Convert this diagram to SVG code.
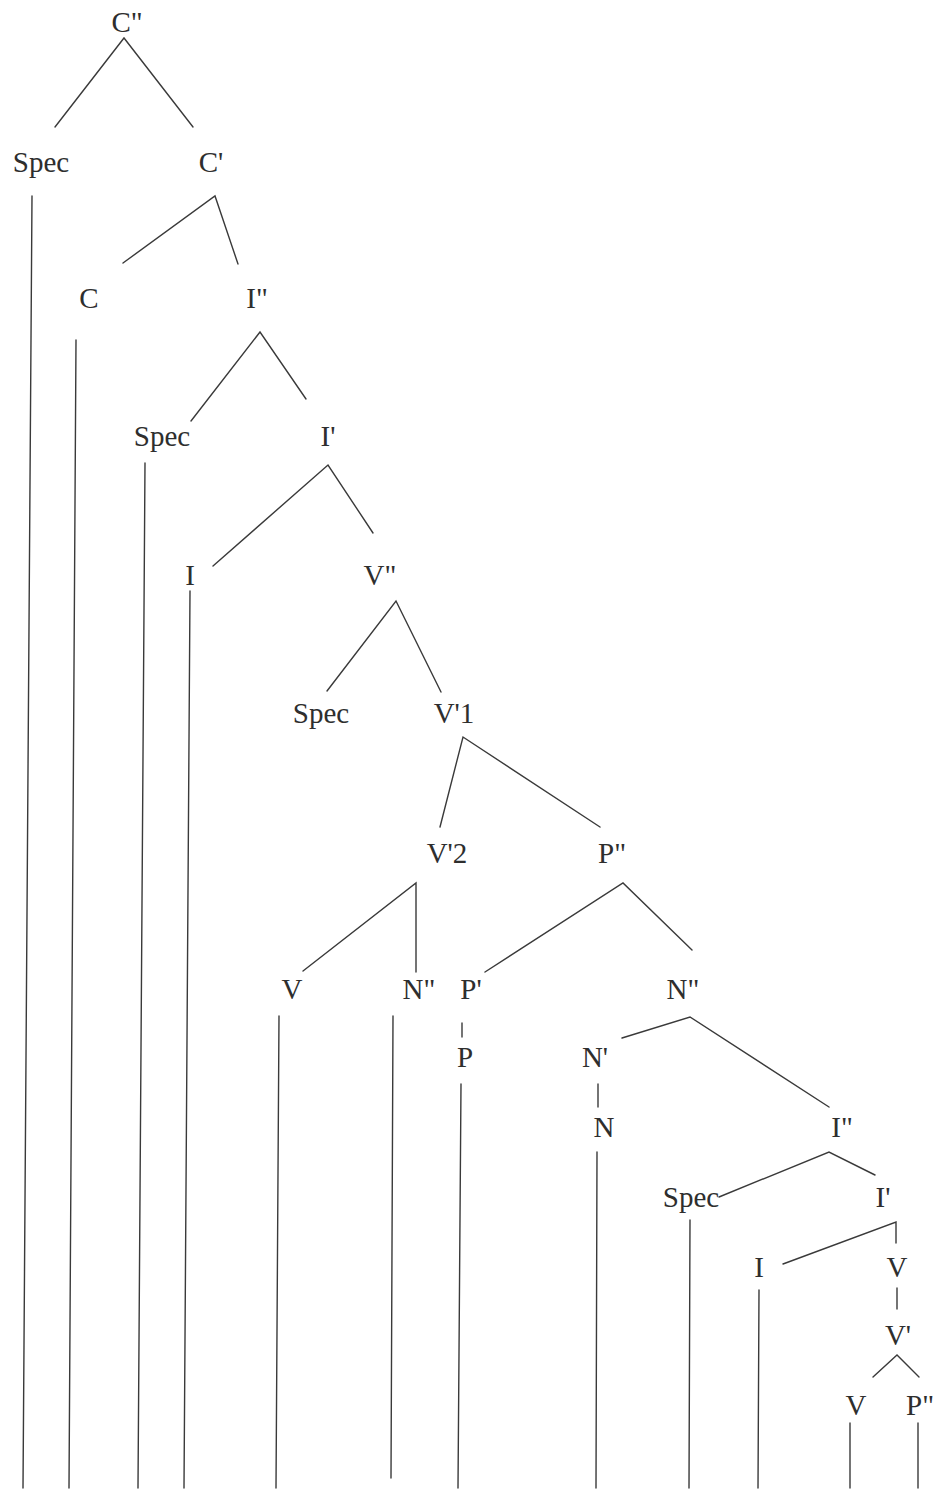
<svg xmlns="http://www.w3.org/2000/svg" width="937" height="1490" viewBox="0 0 937 1490">
  <style>
    .bg { fill: #ffffff; }
    .lbl { font-family: "Liberation Serif", "Times New Roman", serif; font-size: 29px; fill: #2e2e2e; text-anchor: middle; }
    .edge { stroke: #3a3a3a; stroke-width: 1.4; fill: none; stroke-linecap: round; }
  </style>
  <rect class="bg" x="0" y="0" width="937" height="1490"/>

  <!-- branches and projection lines -->
  <g id="connectors">
    <polyline class="edge" points="55,127 124,38 193,127"/>
    <polyline class="edge" points="123,263 215,196 238,264"/>
    <polyline class="edge" points="191,421 260,332 306,399"/>
    <polyline class="edge" points="213,566 328,465 373,533"/>
    <polyline class="edge" points="327,691 396,601 441,692"/>
    <polyline class="edge" points="440,827 463,737 600,827"/>
    <polyline class="edge" points="303,971 416,883 416,972"/>
    <polyline class="edge" points="485,972 623,883 692,950"/>
    <polyline class="edge" points="622,1038 690,1017 829,1107"/>
    <polyline class="edge" points="719,1197 829,1152 875,1175"/>
    <polyline class="edge" points="783,1264 896,1222 896,1243"/>
    <polyline class="edge" points="873,1377 897,1355 919,1377"/>
    <!-- short unary links -->
    <line class="edge" x1="462" y1="1023" x2="462" y2="1037"/>
    <line class="edge" x1="598" y1="1084" x2="598" y2="1107"/>
    <line class="edge" x1="897" y1="1288" x2="897" y2="1309"/>
    <!-- long drop lines to the base -->
    <line class="edge" x1="32" y1="196" x2="23" y2="1488"/>
    <line class="edge" x1="76" y1="340" x2="69" y2="1488"/>
    <line class="edge" x1="145" y1="463" x2="138" y2="1488"/>
    <line class="edge" x1="190" y1="591" x2="184" y2="1488"/>
    <line class="edge" x1="279" y1="1016" x2="276" y2="1488"/>
    <line class="edge" x1="393" y1="1016" x2="391" y2="1478"/>
    <line class="edge" x1="461" y1="1084" x2="458" y2="1488"/>
    <line class="edge" x1="597" y1="1152" x2="596" y2="1488"/>
    <line class="edge" x1="690" y1="1220" x2="689" y2="1488"/>
    <line class="edge" x1="759" y1="1290" x2="758" y2="1488"/>
    <line class="edge" x1="850" y1="1423" x2="850" y2="1488"/>
    <line class="edge" x1="918" y1="1423" x2="918" y2="1488"/>
  </g>

  <!-- tree nodes -->
  <g id="n-Cpp"><text class="lbl" x="127" y="32">C"</text></g>
  <g id="n-Spec1"><text class="lbl" x="41" y="172">Spec</text></g>
  <g id="n-Cp"><text class="lbl" x="211" y="172">C'</text></g>
  <g id="n-C"><text class="lbl" x="89" y="308">C</text></g>
  <g id="n-Ipp1"><text class="lbl" x="257" y="308">I"</text></g>
  <g id="n-Spec2"><text class="lbl" x="162" y="446">Spec</text></g>
  <g id="n-Ip1"><text class="lbl" x="328" y="446">I'</text></g>
  <g id="n-I1"><text class="lbl" x="190" y="585">I</text></g>
  <g id="n-Vpp"><text class="lbl" x="380" y="585">V"</text></g>
  <g id="n-Spec3"><text class="lbl" x="321" y="723">Spec</text></g>
  <g id="n-Vp1"><text class="lbl" x="454" y="723">V'1</text></g>
  <g id="n-Vp2"><text class="lbl" x="447" y="863">V'2</text></g>
  <g id="n-Ppp1"><text class="lbl" x="612" y="863">P"</text></g>
  <g id="n-V1"><text class="lbl" x="292" y="999">V</text></g>
  <g id="n-Npp1"><text class="lbl" x="419" y="999">N"</text></g>
  <g id="n-Pp"><text class="lbl" x="471" y="999">P'</text></g>
  <g id="n-Npp2"><text class="lbl" x="683" y="999">N"</text></g>
  <g id="n-P"><text class="lbl" x="465" y="1067">P</text></g>
  <g id="n-Np"><text class="lbl" x="595" y="1067">N'</text></g>
  <g id="n-N"><text class="lbl" x="604" y="1137">N</text></g>
  <g id="n-Ipp2"><text class="lbl" x="842" y="1137">I"</text></g>
  <g id="n-Spec4"><text class="lbl" x="691" y="1207">Spec</text></g>
  <g id="n-Ip2"><text class="lbl" x="883" y="1207">I'</text></g>
  <g id="n-I2"><text class="lbl" x="759" y="1277">I</text></g>
  <g id="n-V2"><text class="lbl" x="897" y="1277">V</text></g>
  <g id="n-Vp3"><text class="lbl" x="898" y="1345">V'</text></g>
  <g id="n-V3"><text class="lbl" x="856" y="1415">V</text></g>
  <g id="n-Ppp2"><text class="lbl" x="920" y="1415">P"</text></g>
</svg>
